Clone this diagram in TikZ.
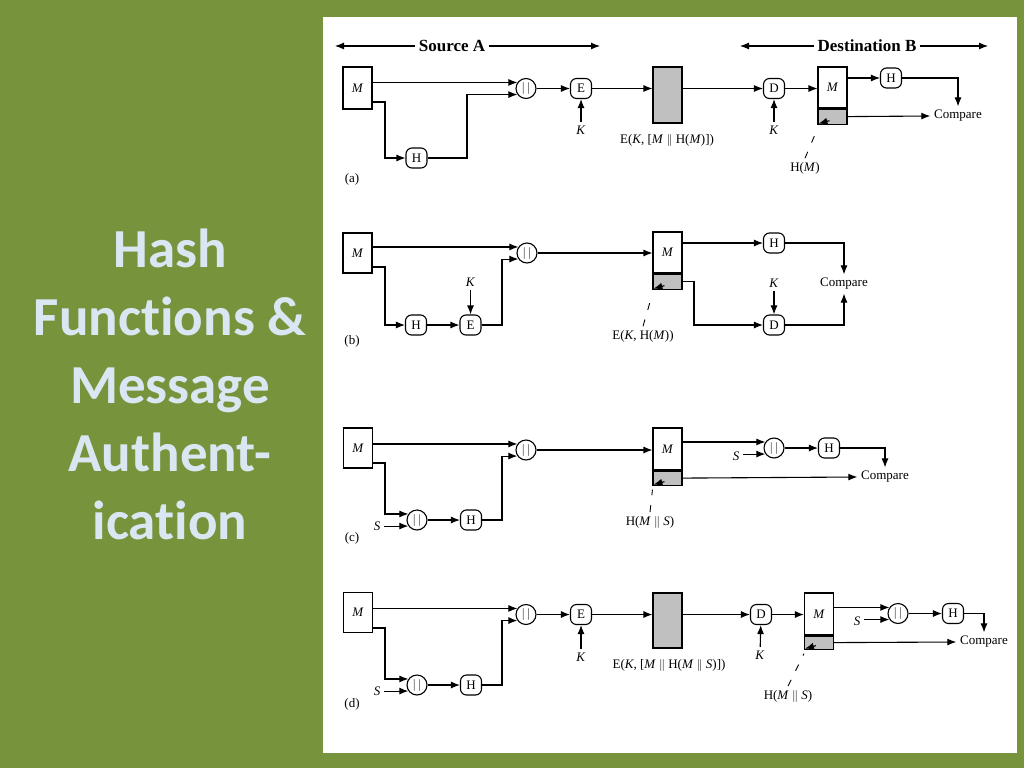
\documentclass[tikz,border=0pt]{standalone}
\usepackage{fontspec}
\setmainfont{Liberation Serif}
\newfontfamily\titlefont{Carlito}[Ligatures=NoCommon]
\usetikzlibrary{arrows.meta,positioning,calc}

\begin{document}
\begin{tikzpicture}[x=1pt,y=-1pt,line width=1.1pt,
  >={Latex[length=9pt,width=7pt]},
  every node/.style={font=\fontsize{13}{15}\selectfont},
  msgbox/.style={draw,minimum width=29pt,inner sep=0pt},
  tagbox/.style={draw,fill=boxgray,minimum width=29pt,inner sep=0pt},
  fnbox/.style={draw,rounded corners=6pt,minimum width=21pt,minimum height=20pt,inner sep=0pt},
  catnode/.style={draw,circle,minimum size=20pt,inner sep=0pt},
  leader/.style={line width=0.9pt,dash pattern=on 7pt off 10pt},
  headtext/.style={font=\fontsize{17}{20}\selectfont\bfseries}]
  \definecolor{bggreen}{RGB}{119,147,60}
  \definecolor{titleblue}{RGB}{220,230,242}
  \definecolor{boxgray}{RGB}{192,192,192}
  \fill[bggreen] (0,0) rectangle (1024,768);
  \fill[white] (323,17) rectangle (1017,753);
  \node[font=\titlefont\bfseries\fontsize{55}{68}\selectfont,text=titleblue,align=center]
    (title) at (170,384) {Hash\\Functions \&\\Message\\Authent-\\ication};

  % headers
  \node[headtext] (srcA) at (452,46) {Source A};
  \coordinate (srcL) at (335,46);
  \coordinate (srcR) at (600,46);
  \draw[->] (srcA) -- (srcL);
  \draw[->] (srcA) -- (srcR);
  \node[headtext] (dstB) at (867,46) {Destination B};
  \coordinate (dstL) at (740,46);
  \coordinate (dstR) at (988,46);
  \draw[->] (dstB) -- (dstL);
  \draw[->] (dstB) -- (dstR);

  % (a)
  \node[msgbox,minimum height=42pt] (Ma) at (357.5,88) {\textit{M}};
  \node[catnode] (Ca) at (526,88.5) {$|\,|$};
  \node[fnbox] (Ha) at (416.5,158) {H};
  \node[fnbox] (Ea) at (581,88.5) {E};
  \node (Ka) at (581,130) {\textit{K}};
  \node[draw,fill=boxgray,minimum width=29pt,minimum height=56pt] (Ga) at (667.5,95) {};
  \node (La) at (667,140) {E(\textit{K}, [\textit{M} $\|$ H(\textit{M})])};
  \node[fnbox] (Da) at (774,88.5) {D};
  \node (Kda) at (774,130) {\textit{K}};
  \node[msgbox,minimum height=41pt] (Ra) at (832.5,87.5) {\textit{M}};
  \node[tagbox,minimum height=15pt,below=0pt of Ra] (Ta) {};
  \node[fnbox] (Hra) at (891,78) {H};
  \node (Cma) at (958,116) {Compare};
  \node (Lha) at (805,168) {H(\textit{M})};
  \node (tagA) at (352,179) {(a)};
  \coordinate (a1) at (385,102);
  \coordinate (a2) at (467,0);
  \draw[->] (Ma.east |- Ca.145) -- (Ca.145);
  \draw[->] (Ma.east |- a1) -- (a1) |- (Ha.west);
  \draw[->] (Ha.east) -| (a2 |- Ca.215) -- (Ca.215);
  \draw[->] (Ca) -- (Ea);
  \draw[->] (Ka) -- (Ea);
  \draw[->] (Ea) -- (Ga.west |- Ea);
  \draw[->] (Ga.east |- Da) -- (Da);
  \draw[->] (Kda) -- (Da);
  \draw[->] (Da) -- (Ra.west |- Da);
  \draw[->] (Ra.east |- Hra) -- (Hra);
  \draw[->] (Hra) -| (Cma.north);
  \draw[->] (Ta.east) -- (Cma.west);
  \draw[leader] (Lha.north) -- ($(Ta.south west)+(0,4)$);
  \draw[->] ($(Ta.south west)+(12,-4)$) -- ($(Ta.south west)+(1,-1)$);

  % (b)
  \node[msgbox,minimum height=40pt] (Mb) at (357.5,253) {\textit{M}};
  \node[catnode] (Cb) at (527,253) {$|\,|$};
  \node[fnbox] (Hb) at (416,325) {H};
  \node[fnbox] (Eb) at (470.5,325) {E};
  \node (Kb) at (470.5,282) {\textit{K}};
  \node[msgbox,minimum height=41pt] (Rb) at (667.5,252.5) {\textit{M}};
  \node[tagbox,minimum height=15pt,below=0pt of Rb] (Tb) {};
  \node[fnbox] (Hrb) at (774,243) {H};
  \node[fnbox] (Drb) at (774,325) {D};
  \node (Krb) at (774,283) {\textit{K}};
  \node (Cmb) at (844,284) {Compare};
  \node (Lb) at (643,336) {E(\textit{K}, H(\textit{M}))};
  \node (tagB) at (352,341) {(b)};
  \coordinate (b1) at (385,267);
  \coordinate (b2) at (502,0);
  \coordinate (b3) at (694,0);
  \draw[->] (Mb.east |- Cb.145) -- (Cb.145);
  \draw[->] (Mb.east |- b1) -- (b1) |- (Hb.west);
  \draw[->] (Hb) -- (Eb);
  \draw[->] (Kb) -- (Eb);
  \draw[->] (Eb.east) -| (b2 |- Cb.215) -- (Cb.215);
  \draw[->] (Cb) -- (Rb.west |- Cb);
  \draw[->] (Rb.east |- Hrb) -- (Hrb);
  \draw[->] (Hrb) -| (Cmb.north);
  \draw[->] (Tb.east) -| (b3 |- Drb) -- (Drb);
  \draw[->] (Krb) -- (Drb);
  \draw[->] (Drb) -| (Cmb.south);
  \draw[leader] (Lb.north) -- ($(Tb.south west)+(0,4)$);
  \draw[->] ($(Tb.south west)+(12,-4)$) -- ($(Tb.south west)+(1,-1)$);

  % (c)
  \node[msgbox,minimum height=40pt] (Mc) at (358,448) {\textit{M}};
  \node[catnode] (Cc) at (526,450) {$|\,|$};
  \node[catnode] (Csc) at (417,520) {$|\,|$};
  \node (Sc) at (377,526) {\textit{S}};
  \node[fnbox] (Hc) at (471,520) {H};
  \node[msgbox,minimum height=42pt] (Rc) at (667.5,449) {\textit{M}};
  \node[tagbox,minimum height=14pt,below=0pt of Rc] (Tc) {};
  \node[catnode] (Crc) at (774,448) {$|\,|$};
  \node (Src) at (736,456) {\textit{S}};
  \node[fnbox] (Hrc) at (829,448) {H};
  \node (Cmc) at (885,477) {Compare};
  \node (Lc) at (650,522) {H(\textit{M} $\|$ \textit{S})};
  \node (tagC) at (352,538) {(c)};
  \coordinate (c1) at (385,463);
  \coordinate (c2) at (502,0);
  \draw[->] (Mc.east |- Cc.145) -- (Cc.145);
  \draw[->] (Mc.east |- c1) -- (c1) |- (Csc.145);
  \draw[->] (Sc.east |- Csc.215) -- (Csc.215);
  \draw[->] (Csc) -- (Hc);
  \draw[->] (Hc.east) -| (c2 |- Cc.215) -- (Cc.215);
  \draw[->] (Cc) -- (Rc.west |- Cc);
  \draw[->] (Rc.east |- Crc.145) -- (Crc.145);
  \draw[->] (Src.east |- Crc.215) -- (Crc.215);
  \draw[->] (Crc) -- (Hrc);
  \draw[->] (Hrc) -| (Cmc.north);
  \draw[->] (Tc.east) -- (Cmc.west);
  \draw[leader] (Lc.north) -- ($(Tc.south west)+(0,4)$);
  \draw[->] ($(Tc.south west)+(12,-4)$) -- ($(Tc.south west)+(1,-1)$);

  % (d)
  \node[msgbox,minimum height=40pt] (Md) at (358,612.5) {\textit{M}};
  \node[catnode] (Cd) at (526,614.5) {$|\,|$};
  \node[catnode] (Csd) at (417,685) {$|\,|$};
  \node (Sd) at (377,691) {\textit{S}};
  \node[fnbox] (Hd) at (471,685) {H};
  \node[fnbox] (Ed) at (581,614.5) {E};
  \node (Kd) at (581,657) {\textit{K}};
  \node[draw,fill=boxgray,minimum width=29pt,minimum height=55pt] (Gd) at (667.5,620.5) {};
  \node (Ld) at (669,665) {E(\textit{K}, [\textit{M} $\|$ H(\textit{M} $\|$ \textit{S})])};
  \node[fnbox] (Dd) at (761,614.5) {D};
  \node (Kdd) at (760,655) {\textit{K}};
  \node[msgbox,minimum height=42pt] (Rd) at (819,614) {\textit{M}};
  \node[tagbox,minimum height=13pt,below=0pt of Rd] (Td) {};
  \node[catnode] (Crd) at (898,613.5) {$|\,|$};
  \node (Srd) at (857,621) {\textit{S}};
  \node[fnbox] (Hrd) at (953,613.5) {H};
  \node (Cmd) at (984,642) {Compare};
  \node (Lhd) at (788,696) {H(\textit{M} $\|$ \textit{S})};
  \node (tagD) at (352,704) {(d)};
  \coordinate (d1) at (385,628);
  \coordinate (d2) at (502,0);
  \draw[->] (Md.east |- Cd.145) -- (Cd.145);
  \draw[->] (Md.east |- d1) -- (d1) |- (Csd.145);
  \draw[->] (Sd.east |- Csd.215) -- (Csd.215);
  \draw[->] (Csd) -- (Hd);
  \draw[->] (Hd.east) -| (d2 |- Cd.215) -- (Cd.215);
  \draw[->] (Cd) -- (Ed);
  \draw[->] (Kd) -- (Ed);
  \draw[->] (Ed) -- (Gd.west |- Ed);
  \draw[->] (Gd.east |- Dd) -- (Dd);
  \draw[->] (Kdd) -- (Dd);
  \draw[->] (Dd) -- (Rd.west |- Dd);
  \draw[->] (Rd.east |- Crd.145) -- (Crd.145);
  \draw[->] (Srd.east |- Crd.215) -- (Crd.215);
  \draw[->] (Crd) -- (Hrd);
  \draw[->] (Hrd) -| (Cmd.north);
  \draw[->] (Td.east) -- (Cmd.west);
  \draw[leader] (Lhd.north) -- ($(Td.south west)+(0,4)$);
  \draw[->] ($(Td.south west)+(12,-4)$) -- ($(Td.south west)+(1,-1)$);
\end{tikzpicture}
\end{document}
